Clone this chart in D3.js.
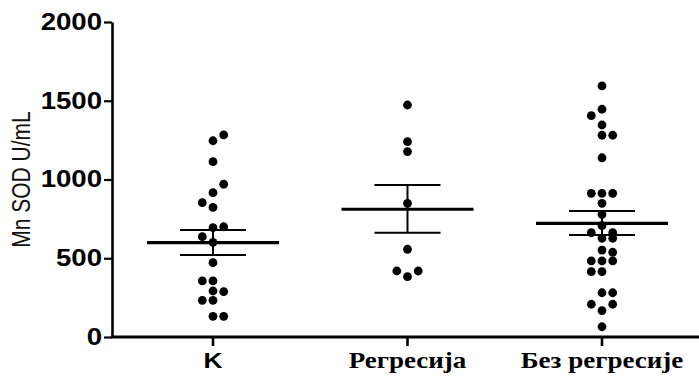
<!DOCTYPE html>
<html>
<head>
<meta charset="utf-8">
<script src="https://cdn.jsdelivr.net/npm/d3@7"></script>
<style>
  html, body { margin: 0; padding: 0; background: #fff; }
  svg { display: block; }
</style>
</head>
<body>
<svg id="chart" width="699" height="376"></svg>
<script>
// ---- data ----
const categories = ["K", "Регресија", "Без регресије"];
const yTicks = [0, 500, 1000, 1500, 2000];
const yTitle = "Mn SOD U/mL";

// values (U/mL) and the dot-column slot each point sits in
const kValues = [1283, 1246, 1113, 970, 916, 853, 823, 700, 694, 637, 601, 472, 356, 356, 292, 288, 233, 233, 131, 131];
const kSlots  = [1, 0, 0, 1, 0, -1, 0, 1, 0, -1, 0, 0, -1, 0, 0, 1, -1, 0, 0, 1];

const regValues = [1473, 1240, 1177, 849, 557, 419, 419, 383];
const regSlots  = [0, 0, 0, 0, 0, -1, 1, 0];

const bezValues = [1594, 1446, 1405, 1346, 1281, 1281, 1138, 912, 912, 912, 849, 779, 707, 662, 662, 627, 627, 552, 538, 483, 483, 483, 415, 415, 281, 281, 208, 208, 167, 65];
const bezSlots  = [0, 0, -1, 0, 0, 1, 0, -1, 0, 1, 0, 0, 0, -1, 1, 0, 1, 0, 1, -1, 0, 1, -1, 0, 0, 1, -1, 1, 0, 0];

// mean and SEM bounds
const means    = [599, 811, 722];
const semUpper = [679, 965, 800];
const semLower = [521, 662, 648];

// ---- drawing ----
const svg = d3.select("#chart");
const W = 699, H = 376;
const mLeft = 112, mTop = 22, mBottom = 337;
const stretch = 1.2; // text in the source is drawn horizontally widened

const y = d3.scaleLinear().domain([0, 2000]).range([mBottom, mTop]);
const x = d3.scalePoint().domain(categories).range([213, 602]);
const slot = d3.scaleLinear().domain([-1, 1]).range([-10.7, 10.7]);
const halfMean = d3.scaleLinear().domain([0, 1]).range([0, 66]);

const groups = [
  { cat: categories[0], values: kValues, slots: kSlots },
  { cat: categories[1], values: regValues, slots: regSlots },
  { cat: categories[2], values: bezValues, slots: bezSlots }
];

// Y axis
const yAxis = svg.append("g")
  .attr("transform", `translate(${mLeft},0)`)
  .call(d3.axisLeft(y).tickValues(yTicks).tickFormat(d3.format("d")).tickSize(8).tickPadding(2).tickSizeOuter(0));
yAxis.select(".domain").attr("stroke", "#000").attr("stroke-width", 2.6);
yAxis.selectAll(".tick line").attr("stroke", "#000").attr("stroke-width", 2.2);
yAxis.selectAll(".tick text")
  .attr("fill", "#000")
  .attr("x", -10 / stretch)
  .attr("transform", `scale(${stretch},1)`)
  .style("font-family", "Liberation Sans, Arial, sans-serif")
  .style("font-weight", "bold")
  .style("font-size", "23px");

// X axis
const xAxisG = svg.append("g").attr("transform", `translate(0,${mBottom})`);
xAxisG.append("line")
  .attr("x1", mLeft - 1).attr("x2", W)
  .attr("y1", 0).attr("y2", 0)
  .attr("stroke", "#000").attr("stroke-width", 3);
xAxisG.selectAll("line.xt").data(categories).enter().append("line")
  .attr("class", "xt")
  .attr("x1", d => x(d)).attr("x2", d => x(d))
  .attr("y1", 0).attr("y2", 9)
  .attr("stroke", "#000").attr("stroke-width", 2.6);
xAxisG.selectAll("g.xl").data(categories).enter().append("g")
  .attr("class", "xl")
  .attr("transform", d => `translate(${x(d)},31) scale(${stretch},1)`)
  .append("text")
  .attr("text-anchor", "middle")
  .attr("fill", "#000")
  .style("font-weight", "bold")
  .style("font-family", (d, i) => i === 0 ? "Liberation Sans, Arial, sans-serif" : "Liberation Serif, 'Times New Roman', serif")
  .style("font-size", (d, i) => i === 0 ? "22px" : "22.5px")
  .text(d => d);

// Y title
svg.append("text")
  .attr("transform", `translate(30,${(mTop + mBottom) / 2}) scale(${stretch},1) rotate(-90)`)
  .attr("text-anchor", "middle")
  .attr("fill", "#111")
  .style("font-family", "Liberation Sans, Arial, sans-serif")
  .style("font-size", "21px")
  .text(yTitle);

// Dots
groups.forEach(g => {
  svg.append("g").selectAll("circle")
    .data(g.values.map((v, i) => ({ v, s: g.slots[i] })))
    .enter().append("circle")
    .attr("cx", d => x(g.cat) + slot(d.s))
    .attr("cy", d => y(d.v))
    .attr("r", 4.4)
    .attr("fill", "#000");
});

// Mean and SEM
categories.forEach((c, i) => {
  const cx = x(c);
  const gg = svg.append("g");
  gg.append("line")
    .attr("x1", cx).attr("x2", cx)
    .attr("y1", y(semUpper[i])).attr("y2", y(semLower[i]))
    .attr("stroke", "#000").attr("stroke-width", 2);
  [semUpper[i], semLower[i]].forEach(v => {
    gg.append("line")
      .attr("x1", cx - halfMean(0.5)).attr("x2", cx + halfMean(0.5))
      .attr("y1", y(v)).attr("y2", y(v))
      .attr("stroke", "#000").attr("stroke-width", 2);
  });
  gg.append("line")
    .attr("x1", cx - halfMean(1)).attr("x2", cx + halfMean(1))
    .attr("y1", y(means[i])).attr("y2", y(means[i]))
    .attr("stroke", "#000").attr("stroke-width", 3.2);
});
</script>
</body>
</html>
